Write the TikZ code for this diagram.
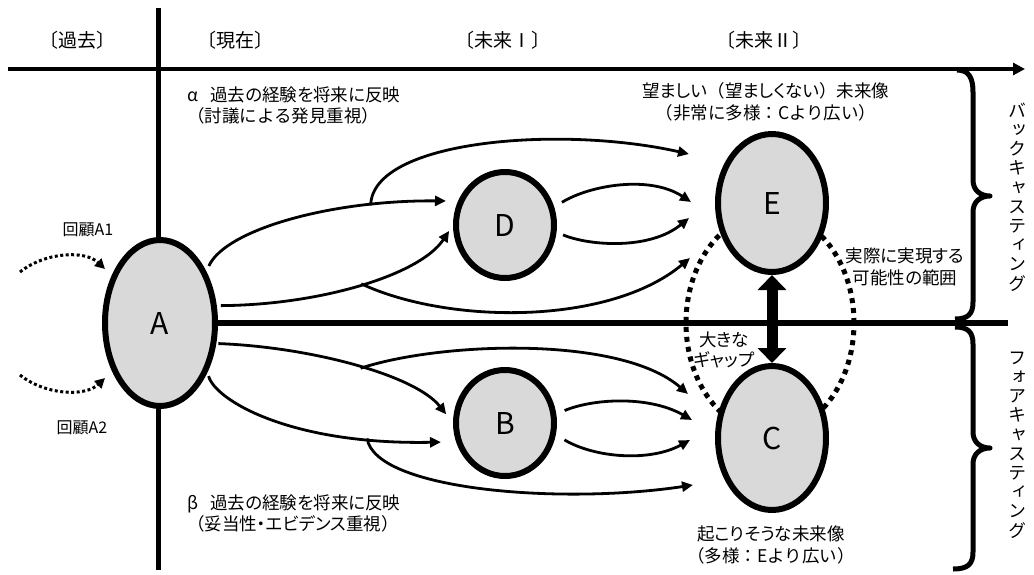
\documentclass[tikz,border=0pt]{standalone}
\usepackage{fontspec}
\setmainfont[RawFeature=+palt]{Noto Sans CJK JP}
\newfontfamily\jpfull{Noto Sans CJK JP}
\newfontfamily\jpvert[RawFeature=+vert]{Noto Sans CJK JP}
\usetikzlibrary{arrows.meta,shapes.geometric}
\definecolor{bubblegray}{HTML}{D9D9D9}
\begin{document}
\begin{tikzpicture}[x=1pt,y=-1pt,
  conn/.style={line width=2.8pt,-{Triangle[length=11pt,width=10pt]}},
  bubble/.style={ellipse,draw,line width=6pt,fill=bubblegray,inner sep=0pt,font=\fontsize{30}{30}\selectfont},
  lbl/.style={inner sep=0pt,align=center,font=\fontsize{17.5}{22}\selectfont},
  lbll/.style={inner sep=0pt,align=left,font=\fontsize{17.5}{21}\selectfont},
  period/.style={inner sep=0pt,font=\jpfull\fontsize{19}{22}\selectfont},
  vtext/.style={inner sep=0pt,align=center,font=\jpvert\fontsize{18}{19.2}\selectfont},
  recall/.style={line width=3pt,dash pattern=on 3pt off 2.5pt,-{Triangle[length=10pt,width=10pt]}},
  rangedots/.style={ellipse,draw,line width=5pt,dash pattern=on 5pt off 5pt},
  gaparrow/.style={line width=11pt,{Triangle[length=15pt,width=28pt]}-{Triangle[length=15pt,width=28pt]}},
  brace/.style={line width=5pt,line join=round}]
\useasboundingbox (0,0) rectangle (1034,574);
% axes
\coordinate (ax0) at (8,69);
\coordinate (ax1) at (1025,69);
\coordinate (vt0) at (158,8);
\coordinate (vt1) at (158,570);
\coordinate (mid1) at (1008,323);
\draw[line width=3.5pt,-{Triangle[length=12pt,width=12pt]}] (ax0) -- (ax1);
\draw[line width=5pt] (vt0) -- (vt1);
% period labels
\node[period] (pPast) at (77,40) {〔過去〕};
\node[period] (pNow) at (235,40) {〔現在〕};
\node[period] (pF1) at (503,40) {〔未来Ⅰ〕};
\node[period] (pF2) at (764,40) {〔未来Ⅱ〕};
% range of realisation
\node[rangedots,minimum width=168pt,minimum height=220pt] (range) at (770,323) {};
% bubbles
\node[bubble,minimum width=110pt,minimum height=166pt] (A) at (160,323) {A};
\draw[line width=6pt] (A.east) -- (mid1);
\node[bubble,minimum width=98pt,minimum height=106pt] (D) at (505,225) {D};
\node[bubble,minimum width=98pt,minimum height=106pt] (B) at (505,423) {B};
\node[bubble,minimum width=108pt,minimum height=138pt] (E) at (772,203) {E};
\node[bubble,minimum width=108pt,minimum height=144pt] (C) at (772,438) {C};
\draw[gaparrow] (E.south) -- (C.north);
% tips near E and C
\coordinate (e1) at (689,154);
\coordinate (e2) at (691,202);
\coordinate (e3) at (689,218);
\coordinate (e4) at (690,258);
\coordinate (f1) at (688,394);
\coordinate (f2) at (692,420);
\coordinate (f3) at (690,440);
\coordinate (f4) at (693,485);
% upper connectors
\draw[conn,shorten <=6pt,shorten >=12pt] (A.48) .. controls (225,230) and (330,200) .. (D.153) coordinate[pos=0.76] (br1);
\draw[conn] (br1) .. controls (372,140) and (560,125) .. (e1);
\draw[conn,shorten <=4pt,shorten >=7pt] (A.17) .. controls (320,305) and (420,275) .. (D.180) coordinate[pos=0.5] (br2);
\draw[conn] (br2) .. controls (450,325) and (610,325) .. (e4);
\draw[conn,shorten <=9pt] (D.20) .. controls (590,185) and (650,175) .. (e2);
\draw[conn,shorten <=7pt] (D.-8) .. controls (590,246) and (650,250) .. (e3);
% lower connectors
\draw[conn,shorten <=2pt,shorten >=11pt] (A.-20) .. controls (310,347) and (415,375) .. (B.180) coordinate[pos=0.52] (br3);
\draw[conn] (br3) .. controls (440,342) and (620,335) .. (f1);
\draw[conn,shorten <=4pt,shorten >=15pt] (A.-46) .. controls (215,400) and (290,445) .. (B.201) coordinate[pos=0.8] (br4);
\draw[conn] (br4) .. controls (375,490) and (560,505) .. (f4);
\draw[conn,shorten <=9pt] (B.10) .. controls (595,398) and (650,396) .. (f2);
\draw[conn,shorten <=10pt] (B.-13) .. controls (595,458) and (650,462) .. (f3);
% recall arrows
\coordinate (r1s) at (20,272);
\coordinate (r1e) at (105,269);
\coordinate (r2s) at (20,375);
\coordinate (r2e) at (105,378);
\draw[recall] (r1s) .. controls (45,252) and (85,250) .. (r1e);
\draw[recall] (r2s) .. controls (45,395) and (85,397) .. (r2e);
\node[inner sep=0pt,font=\fontsize{16}{18}\selectfont] (rA1) at (88,230) {回顧A1};
\node[inner sep=0pt,font=\fontsize{16}{18}\selectfont] (rA2) at (82,428) {回顧A2};
% texts
\node[lbll,anchor=west] (alpha) at (187,105) {α\hspace{0.7em}過去の経験を将来に反映\\{\jpfull（討議による発見重視）}};
\node[lbll,anchor=west] (beta) at (187,513) {β\hspace{0.7em}過去の経験を将来に反映\\{\jpfull（}妥当性・エビデンス重視{\jpfull）}};
\node[lbl] (eText) at (766,102) {望ましい{\jpfull（}望ましくない{\jpfull）}未来像\\{\jpfull（非常に多様：Cより広い）}};
\node[lbl] (cText) at (771,545) {起こりそうな未来像\\{\jpfull（多様：Eより広い）}};
\node[lbl] (rangeText) at (905,267) {実際に実現する\\可能性の範囲};
\node[lbl,font=\fontsize{17.5}{19.5}\selectfont] (gapText) at (724,350) {大きな\\ギャップ};
% braces
\draw[brace] (957,70) .. controls (969,70) and (973,78) .. (973,92) -- (973,180) .. controls (973,190) and (980,196) .. (990,196) .. controls (980,196) and (973,202) .. (973,212) -- (973,302) .. controls (973,314) and (968,319) .. (955,319);
\draw[brace] (955,327) .. controls (968,327) and (973,332) .. (973,344) -- (973,432) .. controls (973,442) and (980,448) .. (990,448) .. controls (980,448) and (973,454) .. (973,464) -- (973,552) .. controls (973,564) and (968,569) .. (953,569);
\node[vtext] (back) at (1017,197) {バ\\ッ\\ク\\キ\\ャ\\ス\\テ\\ィ\\ン\\グ};
\node[vtext] (fore) at (1017,445) {フ\\ォ\\ア\\キ\\ャ\\ス\\テ\\ィ\\ン\\グ};
\end{tikzpicture}
\end{document}
